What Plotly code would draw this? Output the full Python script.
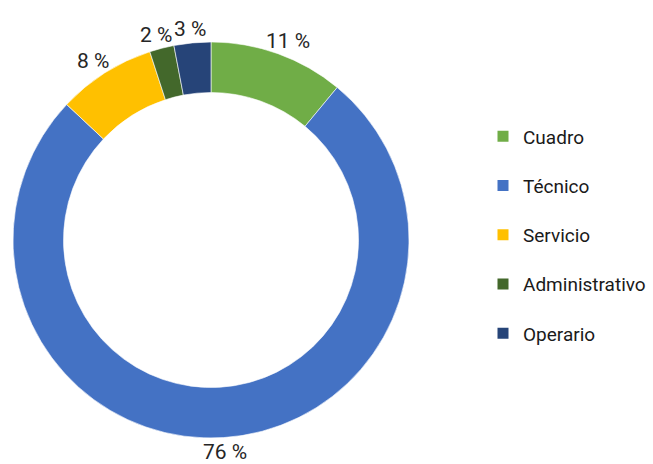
import math
import plotly.graph_objects as go

categories = ["Cuadro", "Técnico", "Servicio", "Administrativo", "Operario"]
shares = [11, 76, 8, 2, 3]
colors = ["#70AD47", "#4472C4", "#FFC000", "#43682B", "#264478"]

W, H = 653, 464
cx, cy = 211, 240      # donut centre, px
r_out = 198            # outer radius, px
r_lab = 203            # radius where each label box touches, px
LAB_SIZE = 21
FONT = "Roboto, Liberation Sans, sans-serif"

fig = go.Figure()

fig.add_trace(
    go.Pie(
        labels=categories,
        values=shares,
        hole=0.745,
        sort=False,
        direction="clockwise",
        rotation=0,
        marker=dict(colors=colors, line=dict(color="white", width=0.6)),
        textinfo="none",
        hoverinfo="label+percent",
        showlegend=False,
        domain=dict(
            x=[(cx - r_out) / W, (cx + r_out) / W],
            y=[1 - (cy + r_out) / H, 1 - (cy - r_out) / H],
        ),
    )
)

# percentage labels outside each slice, at its mid angle (clockwise from 12 o'clock);
# the label box is pushed outward by half its size along the same direction
total = sum(shares)
start = 0.0
for val in shares:
    mid = (start + val / 2) / total * 2 * math.pi
    start += val
    text = f"{val} %"
    box_w = 0.55 * LAB_SIZE * len(text)
    box_h = 0.85 * LAB_SIZE
    px = cx + r_lab * math.sin(mid) + box_w / 2 * math.sin(mid)
    py = cy - r_lab * math.cos(mid) - box_h / 2 * math.cos(mid)
    fig.add_annotation(
        x=px / W,
        y=1 - py / H,
        xref="paper",
        yref="paper",
        text=text,
        showarrow=False,
        xanchor="center",
        yanchor="middle",
        font=dict(family=FONT, size=LAB_SIZE, color="#262626"),
    )

# legend entries: one square marker per category, each in its own group for wider spacing
for name, col in zip(categories, colors):
    fig.add_trace(
        go.Scatter(
            x=[None],
            y=[None],
            mode="markers",
            name=name,
            legendgroup=name,
            marker=dict(symbol="square", size=11, color=col),
            hoverinfo="skip",
        )
    )

fig.update_layout(
    width=W,
    height=H,
    margin=dict(l=0, r=0, t=0, b=0),
    paper_bgcolor="white",
    plot_bgcolor="white",
    xaxis=dict(visible=False),
    yaxis=dict(visible=False),
    font=dict(family=FONT, color="#1a1a1a"),
    showlegend=True,
    legend=dict(
        x=483 / W,
        y=1 - 235 / H,
        xanchor="left",
        yanchor="middle",
        font=dict(family=FONT, size=19, color="#1a1a1a"),
        tracegroupgap=21.5,
        itemwidth=30,
        bgcolor="rgba(0,0,0,0)",
    ),
)

fig.write_html("out.html")
